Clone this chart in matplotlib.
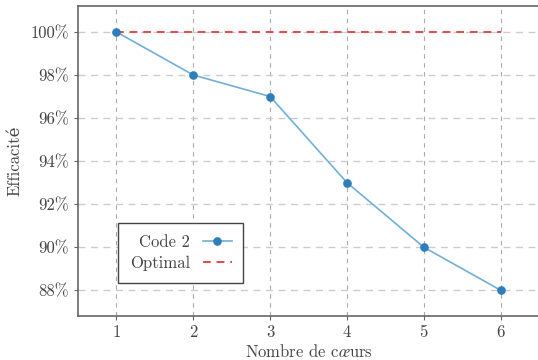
import matplotlib
matplotlib.use("Agg")
import matplotlib.pyplot as plt
from matplotlib.ticker import FuncFormatter

# efficacité parallèle en fonction du nombre de cœurs
coeurs = [1, 2, 3, 4, 5, 6]
efficacite = [100, 98, 97, 93, 90, 88]
optimal = [100, 100, 100, 100, 100, 100]

plt.rcParams['font.family'] = ['cmr10', 'DejaVu Serif']
plt.rcParams['mathtext.fontset'] = 'cm'
plt.rcParams['axes.unicode_minus'] = False
txt = '#444444'

fig = plt.figure(figsize=(5.38, 3.6), dpi=100)
ax = fig.add_axes([0.145, 0.122, 0.857, 0.861])

ax.plot(coeurs, optimal, '--', color='#e8474a', lw=1.4, dashes=(4, 3), label='Optimal', zorder=3)
ax.plot(coeurs, efficacite, '-', color='#70afd8', lw=1.2, zorder=4)
ax.plot(coeurs, efficacite, 'o', color='#2e7ebc', ms=5.2, zorder=5)
h_code = ax.plot([], [], '-o', color='#70afd8', mfc='#2e7ebc', mec='#2e7ebc', ms=5.2, lw=1.2, label='Code 2')[0]

ax.set_xlim(0.5, 6.5)
ax.set_ylim(86.8, 101.2)
ax.set_xticks(coeurs)
ax.set_yticks([88, 90, 92, 94, 96, 98, 100])
ax.yaxis.set_major_formatter(FuncFormatter(lambda v, p: f'{v:.0f}%'))

ax.xaxis.grid(True, ls=(0, (4, 4)), color='#aaaaaa', lw=0.8)
ax.yaxis.grid(True, ls=(0, (5, 4)), color='#cccccc', lw=1.0)
ax.set_axisbelow(True)

for s in ax.spines.values():
    s.set_color('#666666')
    s.set_linewidth(1.2)
ax.spines['right'].set_visible(False)

ax.tick_params(colors='#666666', labelcolor=txt, labelsize=12, length=3, width=0.8)
ax.set_xlabel(r'Nombre de c$\oe$urs', fontsize=12, color=txt, labelpad=2)
ax.set_ylabel('Efficacité', fontsize=12, color=txt, labelpad=6)

leg = ax.legend(handles=[h_code, ax.lines[0]], loc='lower left', bbox_to_anchor=(0.087, 0.107),
                markerfirst=False, fontsize=12, fancybox=False, framealpha=1,
                edgecolor='#444444', handlelength=1.7, handletextpad=0.8,
                borderpad=0.7, borderaxespad=0, labelspacing=0.35)
leg.get_frame().set_linewidth(1.0)
for t in leg.get_texts():
    t.set_color(txt)

fig.savefig('out.png', dpi=100)
